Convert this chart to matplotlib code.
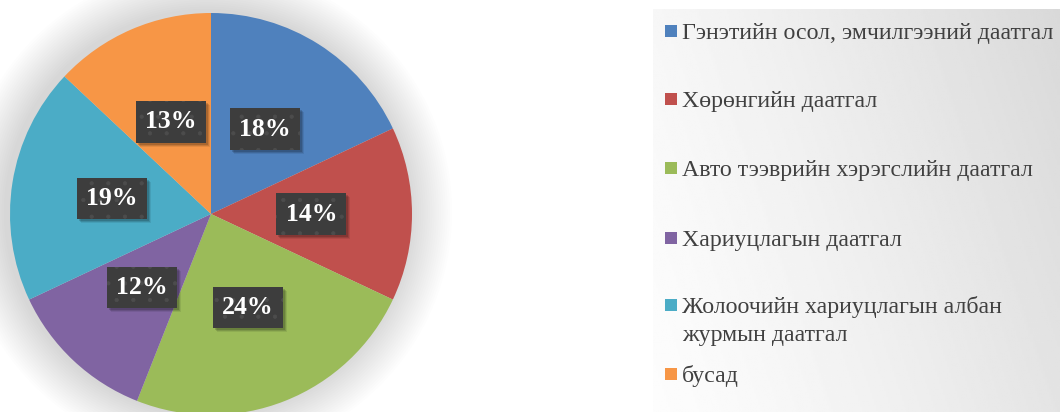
import matplotlib.pyplot as plt
from matplotlib.patches import Rectangle, Circle
from matplotlib.transforms import IdentityTransform
import numpy as np

labels = ["Гэнэтийн осол, эмчилгээний даатгал",
          "Хөрөнгийн даатгал",
          "Авто тээврийн хэрэгслийн даатгал",
          "Хариуцлагын даатгал",
          "Жолоочийн хариуцлагын албан\nжурмын даатгал",
          "бусад"]
shares = [18, 14, 24, 12, 19, 13]
colors = ["#4f81bd", "#c0504d", "#9bbb59", "#8064a2", "#4bacc6", "#f79646"]

W, H = 1060, 412
fig = plt.figure(figsize=(W / 100, H / 100), dpi=100)
fig.patch.set_facecolor("white")

# legend panel with grey gradient
bg = fig.add_axes([653 / W, 0, 1 - 653 / W, 1 - 9 / H])
gx, gy = np.meshgrid(np.linspace(0, 1, 200), np.linspace(0, 1, 200))
grad = 0.99 - 0.14 * (0.75 * gx + 0.25 * (1 - gy)) ** 1.3
bg.imshow(grad, cmap="gray", vmin=0, vmax=1, aspect="auto", extent=[0, 1, 0, 1])
bg.axis("off")

# pie
ax = fig.add_axes([10 / W, -3 / H, 402 / W, 402 / H])
for k in range(20):
    r = 1.0 + 0.011 * (20 - k)
    ax.add_patch(Circle((-0.02, 0.01), r, color="black", alpha=0.008, lw=0,
                        zorder=0, clip_on=False))

plt.rcParams["hatch.linewidth"] = 0.6
wedges, texts, autotexts = ax.pie(
    shares, colors=colors, startangle=90, counterclock=False,
    autopct="%d%%", pctdistance=0.5, radius=1.0,
    wedgeprops=dict(linewidth=0),
    textprops=dict(family="Liberation Serif", fontsize=18.5, fontweight="bold", color="white"))
ax.set_xlim(-1, 1)
ax.set_ylim(-1, 1)
ax.axis("off")
for w in wedges:
    w.set_clip_on(False)

for t in autotexts:
    t.set_bbox(dict(boxstyle="square,pad=0.36", facecolor="#3d3d3d",
                    edgecolor="#4c4c4c", linewidth=0, hatch="."))
    t.set_zorder(5)

# soft shadows behind the label boxes
fig.canvas.draw()
for t in autotexts:
    bb = t.get_bbox_patch().get_window_extent()
    for dx, a in [(4, 0.08), (3, 0.12), (2, 0.15)]:
        ax.add_patch(Rectangle((bb.x0 + dx, bb.y0 - dx), bb.width, bb.height,
                               transform=IdentityTransform(), facecolor="black",
                               alpha=a, lw=0, zorder=3, clip_on=False))

# legend drawn by hand
bases = [39, 107, 176, 246, 313, 382]
for lab, col, y in zip(labels, colors, bases):
    fig.patches.append(Rectangle((665 / W, 1 - 37 / H - (y - 39) / H), 12 / W, 12 / H,
                                 transform=fig.transFigure, color=col, lw=0))
    for j, line in enumerate(lab.split("\n")):
        fig.text(682 / W, 1 - (y + 28 * j) / H, line, family="Liberation Serif",
                 fontsize=17.2, color="#404040", va="baseline")

fig.savefig("out.png", dpi=100)
